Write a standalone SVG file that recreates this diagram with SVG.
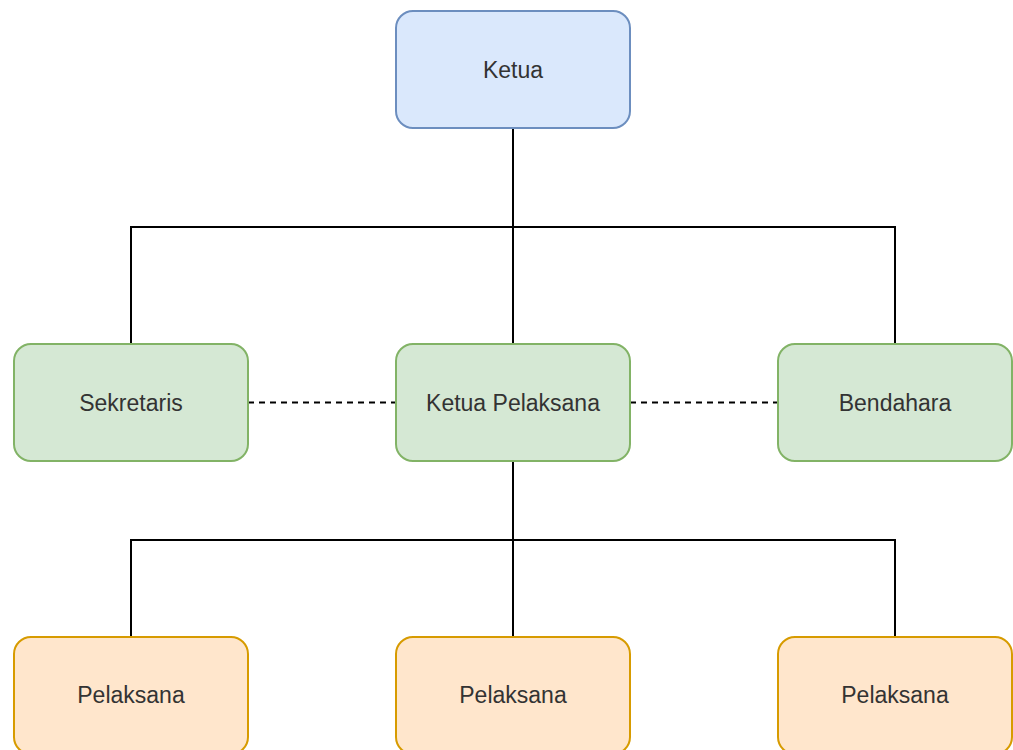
<svg xmlns="http://www.w3.org/2000/svg" width="1013" height="750" viewBox="0 0 1013 750">
<style>
.blue{fill:#dae8fc;stroke:#6c8ebf;stroke-width:2}
.green{fill:#d5e8d4;stroke:#82b366;stroke-width:2}
.orange{fill:#ffe6cc;stroke:#d79b00;stroke-width:2}
.edge{fill:none;stroke:#000;stroke-width:2}
.dash{fill:none;stroke:#000;stroke-width:2;stroke-dasharray:6 5}
text{font-family:"Liberation Sans",Arial,Helvetica,sans-serif;font-size:23px;fill:#333;text-anchor:middle}
</style>
<rect width="1013" height="750" fill="#fff"/>
<g id="connectors">
<path class="edge" d="M513 128 V343"/>
<path class="edge" d="M131 343 V227 H895 V343"/>
<path class="edge" d="M513 461 V637"/>
<path class="edge" d="M131 637 V540 H895 V637"/>
<path class="dash" d="M248 402.5 H396"/>
<path class="dash" d="M630 402.5 H778"/>
</g>
<g id="ketua"><rect class="blue" x="396" y="11" width="234" height="117" rx="17"/><text x="513" y="77.5">Ketua</text></g>
<g id="sekretaris"><rect class="green" x="14" y="344" width="234" height="117" rx="17"/><text x="131" y="410.5">Sekretaris</text></g>
<g id="ketua-pelaksana"><rect class="green" x="396" y="344" width="234" height="117" rx="17"/><text x="513" y="410.5">Ketua Pelaksana</text></g>
<g id="bendahara"><rect class="green" x="778" y="344" width="234" height="117" rx="17"/><text x="895" y="410.5">Bendahara</text></g>
<g id="pelaksana1"><rect class="orange" x="14" y="637" width="234" height="117" rx="17"/><text x="131" y="702.5">Pelaksana</text></g>
<g id="pelaksana2"><rect class="orange" x="396" y="637" width="234" height="117" rx="17"/><text x="513" y="702.5">Pelaksana</text></g>
<g id="pelaksana3"><rect class="orange" x="778" y="637" width="234" height="117" rx="17"/><text x="895" y="702.5">Pelaksana</text></g>
</svg>
